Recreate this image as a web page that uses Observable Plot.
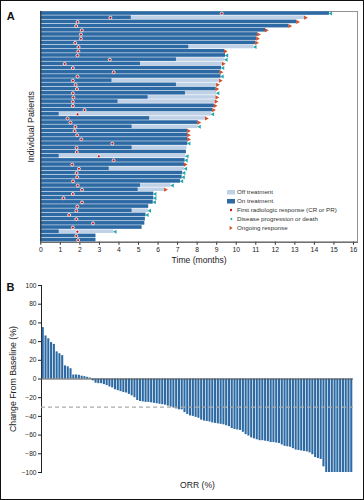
<!DOCTYPE html>
<html><head><meta charset="utf-8">
<script src="https://cdn.jsdelivr.net/npm/d3@7"></script>
<script src="https://cdn.jsdelivr.net/npm/@observablehq/plot@0.6"></script>
<style>
body{margin:0;background:#fff;}
#wrap{position:relative;width:364px;height:500px;overflow:hidden;font-family:"Liberation Sans",Arial,sans-serif;background:#fff;}
#border{position:absolute;left:0;top:0;width:364px;height:500px;box-sizing:border-box;border:1px solid #111;pointer-events:none;}
#a{position:absolute;left:0;top:0;}
#b{position:absolute;left:0;top:272px;}
#legend{position:absolute;left:225px;top:187px;font-size:6.2px;color:#333;line-height:9px;}
#legend .it{display:flex;align-items:center;height:9px;white-space:nowrap;}
#legend svg{width:12px;height:8px;margin-right:0px;flex:none;}
</style></head><body>
<div id="wrap"><div id="a"></div><div id="b"></div><div id="legend"></div><div id="border"></div></div>
<script>
// ---- Panel A: swimmer plot data (months) ----
const patients = d3.range(1, 56);
const onTreatmentEnd = [14.77,4.63,13.1,12.7,11.5,11.1,11.05,11.0,7.57,9.4,9.45,6.94,5.1,9.25,9.18,9.22,3.64,6.94,8.97,7.4,5.49,3.95,8.88,8.8,0.94,5.57,8.05,4.67,7.52,7.52,7.52,7.52,4.67,7.45,0.94,7.38,7.35,3.5,7.26,7.23,7.15,5.1,4.98,5.78,5.78,5.75,5.52,4.67,5.38,5.35,5.32,5.18,0.94,2.82,2.82];
const totalEnd = [14.77,13.5,13.1,12.7,11.5,11.1,11.05,11.0,10.9,9.4,9.45,9.42,9.3,9.25,9.18,9.22,9.15,9.0,8.97,9.0,8.97,8.93,8.88,8.8,8.73,8.43,8.05,8.05,7.52,7.52,7.52,7.52,7.48,7.45,7.42,7.38,7.35,7.35,7.26,7.23,7.15,6.67,6.34,5.78,5.78,5.75,5.52,5.5,5.38,5.35,5.32,5.18,3.74,2.82,2.82];
const firstResponse = [9.26,3.56,1.88,1.81,2.1,2.05,2.05,1.76,1.93,1.92,1.88,3.53,1.22,1.64,3.73,1.88,1.64,1.78,1.85,1.64,1.67,1.64,1.64,2.24,1.88,1.37,1.52,1.77,1.73,1.86,2.07,3.66,1.83,1.84,2.97,3.73,1.61,1.95,1.83,1.86,1.65,1.89,2.11,1.64,1.16,2.11,1.87,1.82,1.45,1.82,2.67,1.64,1.87,1.82,1.91];
// O = ongoing response, P = disease progression or death, "" = none
const endEvent = ["P","O","O","O","O","O","O","O","P","O","P","P","O","P","O","P","O","O","O","P","O","O","O","O","P","O","O","P","O","O","O","P","","","P","P","O","P","P","P","P","P","O","P","P","P","","P","P","","","","P","",""];
const timeTicks = 16;

// ---- Panel B: waterfall (% change from baseline) ----
const changeFromBaseline = [55,46,43,39,37,29,27,25,14,13,11,4.3,4.3,4,3,2.5,1.8,1,-2,-4.5,-5,-5,-6,-7,-8.5,-9.5,-11.5,-12.5,-13.5,-14.5,-15,-16.5,-18,-20,-23,-24,-24.5,-25,-25,-25.5,-26,-26.5,-27,-27.5,-28,-29,-30,-31,-32,-33,-33,-36,-38,-39.5,-40,-41,-42,-44,-45,-45.5,-46,-47,-47.5,-48,-48.5,-49,-50,-51,-53,-54,-54.5,-55,-57,-59.5,-61,-63,-64,-65,-66,-66,-66.5,-67,-68,-68,-68.5,-69,-70.5,-72,-72.5,-73,-74.5,-76,-76.5,-77,-77.5,-78,-79,-81,-84,-85,-86,-94,-100,-100,-100,-100,-100,-100,-100,-100,-100,-100];
const yTicksB = d3.range(-100, 101, 20);
const threshold = -30;

const DARK = "#2d6aa3", LIGHT = "#bfd1e6", RED = "#b81c22", TEAL = "#25a6ad", ORANGE = "#d24f28";
const FONT = "'Liberation Sans', Arial, sans-serif";

const triRight = {draw(ctx, size){const s=Math.sqrt(size); ctx.moveTo(s*0.55,0); ctx.lineTo(-s*0.5,-s*0.6); ctx.lineTo(-s*0.5,s*0.6); ctx.closePath();}};
const triLeft = {draw(ctx, size){const s=Math.sqrt(size); ctx.moveTo(-s*0.55,0); ctx.lineTo(s*0.5,-s*0.6); ctx.lineTo(s*0.5,s*0.6); ctx.closePath();}};

const rows = patients.map((p,i)=>({p, on:onTreatmentEnd[i], end:totalEnd[i], resp:firstResponse[i], ev:endEvent[i]}));

const plotA = Plot.plot({
  width: 364, height: 272,
  marginTop: 10.9, marginBottom: 30.3, marginLeft: 40.3, marginRight: 7.1,
  style: {fontFamily: FONT, fontSize: "6.8px", color: "#222", background: "transparent"},
  x: {domain: [0, 16.2], ticks: timeTicks, tickSize: 3, tickPadding: 2, label: null, line: true},
  y: {domain: [55.5, 0.5], axis: null},
  marks: [
    Plot.frame({stroke: "#777", strokeWidth: 0.8}),
    Plot.rect(rows, {x1: 0, x2: "end", y1: d => d.p - 0.42, y2: d => d.p + 0.42, fill: LIGHT}),
    Plot.rect(rows, {x1: 0, x2: "on", y1: d => d.p - 0.42, y2: d => d.p + 0.42, fill: DARK}),
    Plot.ruleX([0], {stroke: "#222", strokeWidth: 1}),
    Plot.dot(rows.filter(d => d.ev === "O"), {x: "end", y: "p", symbol: triRight, r: 2, fill: ORANGE, dx: 1.2}),
    Plot.dot(rows.filter(d => d.ev === "P"), {x: "end", y: "p", symbol: triLeft, r: 1.9, fill: TEAL, dx: 1}),
    Plot.dot(rows, {x: "resp", y: "p", r: 1.5, fill: RED, stroke: "white", strokeWidth: 0.8}),
    Plot.text(["Time (months)"], {text: d => d, frameAnchor: "bottom", textAnchor: "middle", dy: 21, fontSize: 8.6, fill: "#222"}),
    Plot.text(["Individual Patients"], {text: d => d, frameAnchor: "left", textAnchor: "middle", dx: -10, rotate: -90, fontSize: 8.8, fill: "#222"}),
    Plot.text(["A"], {text: d => d, frameAnchor: "top-left", textAnchor: "middle", dx: -30, dy: 1, fontSize: 11, fontWeight: "bold", fill: "#111"})
  ]
});
document.getElementById("a").append(plotA);

const wf = changeFromBaseline.map((v,i)=>({i, v}));
const plotB = Plot.plot({
  width: 364, height: 228,
  marginTop: 13, marginBottom: 28, marginLeft: 41, marginRight: 11,
  style: {fontFamily: FONT, fontSize: "6.6px", color: "#222", background: "transparent"},
  x: {type: "band", domain: d3.range(changeFromBaseline.length), axis: null, padding: 0.25},
  y: {domain: [-100, 100], ticks: yTicksB, tickSize: 3, tickPadding: 2, label: null, line: true},
  marks: [
    Plot.barY(wf, {x: "i", y: "v", fill: DARK}),
    Plot.ruleY([0], {stroke: "#555", strokeWidth: 1}),
    Plot.ruleY([threshold], {stroke: "#aaa", strokeWidth: 1.2, strokeDasharray: "4,3"}),
    Plot.text(["ORR (%)"], {text: d => d, frameAnchor: "bottom", textAnchor: "middle", dy: 15, fontSize: 8.6, fill: "#222"}),
    Plot.text(["Change From Baseline (%)"], {text: d => d, frameAnchor: "left", textAnchor: "middle", dx: -28, rotate: -90, fontSize: 8.8, fill: "#222"}),
    Plot.text(["B"], {text: d => d, frameAnchor: "top-left", textAnchor: "middle", dx: -31, dy: -2, fontSize: 11, fontWeight: "bold", fill: "#111"})
  ]
});
document.getElementById("b").append(plotB);

// ---- legend ----
const legendItems = [
  {label: "Off treatment", icon: `<rect x="2" y="2" width="8" height="4.5" fill="${LIGHT}"/>`},
  {label: "On treatment", icon: `<rect x="2" y="2" width="8" height="4.5" fill="${DARK}"/>`},
  {label: "First radiologic response (CR or PR)", icon: `<circle cx="6" cy="4" r="1.2" fill="${RED}"/>`},
  {label: "Disease progression or death", icon: `<path d="M4.8,4 L7.2,2.4 L7.2,5.6Z" fill="${TEAL}"/>`},
  {label: "Ongoing response", icon: `<path d="M7.6,4 L4.6,2 L4.6,6Z" fill="${ORANGE}"/>`}
];
const lg = document.getElementById("legend");
for (const it of legendItems) {
  const row = document.createElement("div");
  row.className = "it";
  row.innerHTML = `<svg viewBox="0 0 12 8">${it.icon}</svg><span>${it.label}</span>`;
  lg.append(row);
}
</script>
</body></html>
